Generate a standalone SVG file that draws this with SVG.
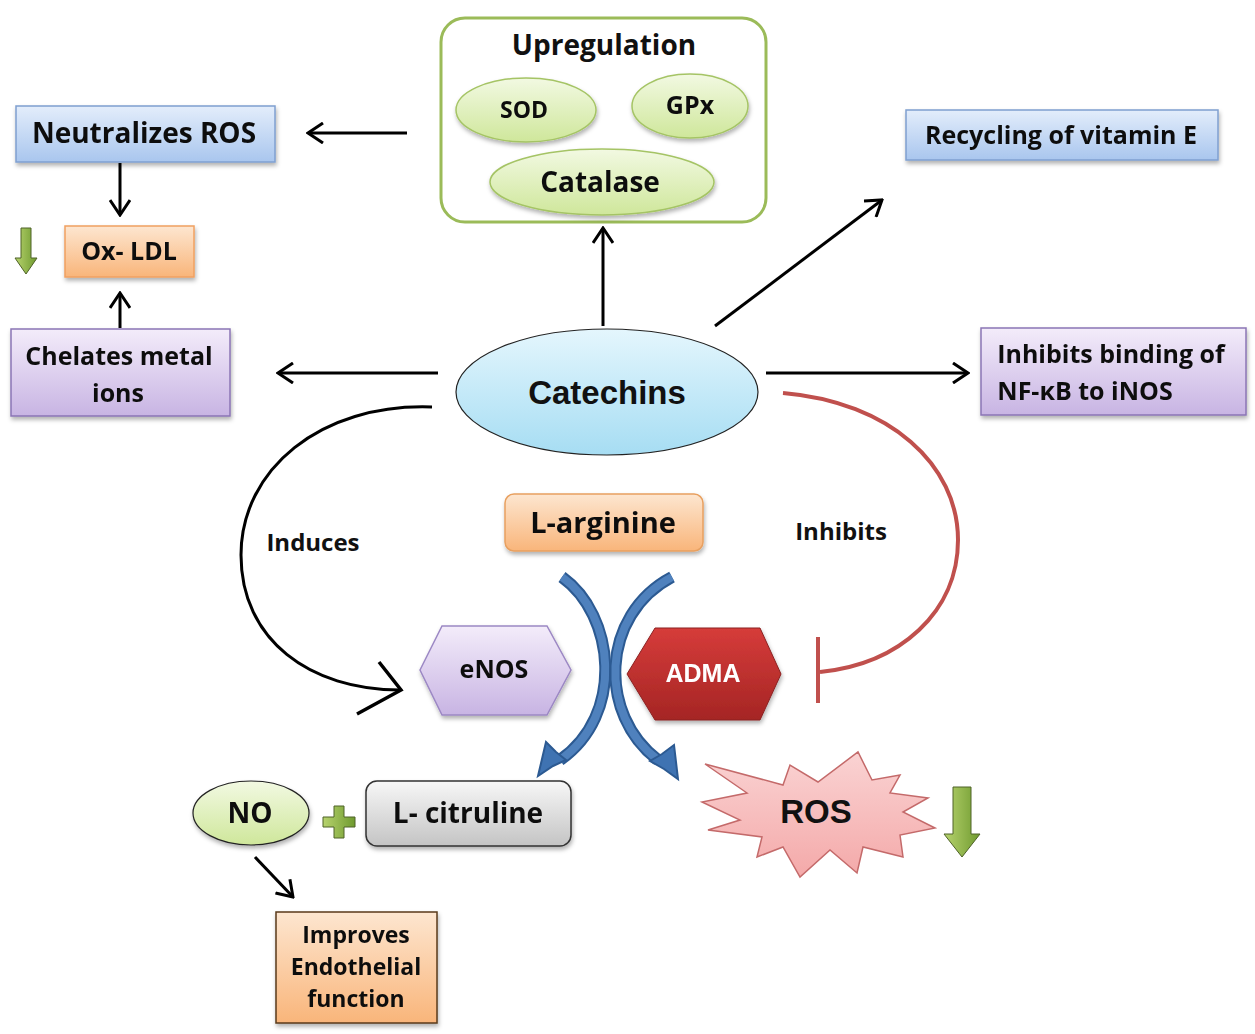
<svg xmlns="http://www.w3.org/2000/svg" width="1255" height="1034" viewBox="0 0 1255 1034">
<defs>
<linearGradient id="gBlue" x1="0" y1="0" x2="0" y2="1"><stop offset="0" stop-color="#e3edfb"/><stop offset="1" stop-color="#a9c6ee"/></linearGradient>
<linearGradient id="gOrange" x1="0" y1="0" x2="0" y2="1"><stop offset="0" stop-color="#fde6d0"/><stop offset="1" stop-color="#f9b57a"/></linearGradient>
<linearGradient id="gPurple" x1="0" y1="0" x2="0" y2="1"><stop offset="0" stop-color="#f3ecfa"/><stop offset="1" stop-color="#c8b4e3"/></linearGradient>
<linearGradient id="gGreen" x1="0" y1="0" x2="0" y2="1"><stop offset="0" stop-color="#f2f9e2"/><stop offset="1" stop-color="#cfe79b"/></linearGradient>
<linearGradient id="gCyan" x1="0" y1="0" x2="0" y2="1"><stop offset="0" stop-color="#e4f6fd"/><stop offset="1" stop-color="#a6ddf3"/></linearGradient>
<linearGradient id="gGray" x1="0" y1="0" x2="0" y2="1"><stop offset="0" stop-color="#f7f7f7"/><stop offset="1" stop-color="#c4c4c4"/></linearGradient>
<linearGradient id="gRed" x1="0" y1="0" x2="0" y2="1"><stop offset="0" stop-color="#d63c3a"/><stop offset="1" stop-color="#a52524"/></linearGradient>
<linearGradient id="gPink" x1="0" y1="0" x2="0" y2="1"><stop offset="0" stop-color="#fad3d3"/><stop offset="1" stop-color="#f4a9a9"/></linearGradient>
<linearGradient id="gDown" x1="0" y1="0" x2="1" y2="0"><stop offset="0" stop-color="#b7d36e"/><stop offset="1" stop-color="#6f9a2f"/></linearGradient>
<filter id="sh" x="-10%" y="-10%" width="130%" height="140%"><feDropShadow dx="1" dy="3" stdDeviation="2" flood-color="#000" flood-opacity="0.3"/></filter>
<marker id="arr" markerUnits="userSpaceOnUse" viewBox="0 0 18 22" refX="16" refY="11" markerWidth="18" markerHeight="22" orient="auto">
<path d="M1,1 L16,11 L1,21" fill="none" stroke="#000" stroke-width="3"/>
</marker>
</defs>
<style>
.t{font-family:"Open Sans",Lato,"Liberation Sans",sans-serif;font-weight:bold;fill:#111;text-anchor:middle;dominant-baseline:central}
.a{font-family:"Liberation Sans",Arial,sans-serif;font-weight:bold;fill:#111;text-anchor:middle;dominant-baseline:central}
.ln{fill:none;stroke:#000;stroke-width:3;marker-end:url(#arr)}
.box{filter:url(#sh)}
.blueArr{fill:none;stroke:#2c5a92;stroke-width:12;stroke-linecap:butt}
.blueIn{fill:none;stroke:#4f81bd;stroke-width:8}
.down{fill:url(#gDown);stroke:#4f6228;stroke-width:1}
</style>
<rect width="1255" height="1034" fill="#fff"/>

<g id="connectors">
<line class="ln" x1="407" y1="133" x2="308" y2="133"/>
<line class="ln" x1="120" y1="163" x2="120" y2="215"/>
<line class="ln" x1="120" y1="328" x2="120" y2="293"/>
<line class="ln" x1="438" y1="373" x2="278" y2="373"/>
<line class="ln" x1="603" y1="326" x2="603" y2="228"/>
<line class="ln" x1="715" y1="326" x2="882" y2="200"/>
<line class="ln" x1="766" y1="373" x2="968" y2="373"/>
<line class="ln" x1="255" y1="857" x2="293" y2="897"/>
<path d="M432,407 C320,403 241,470 241,555 C241,640 310,690 400,690" fill="none" stroke="#000" stroke-width="3"/>
<polyline points="379,662 401,690 357,714" fill="none" stroke="#000" stroke-width="3.5"/>
<path d="M783,393 C890,402 958,465 958,540 C958,612 900,664 820,672" fill="none" stroke="#c0504d" stroke-width="4"/>
<line x1="818" y1="637" x2="818" y2="703" stroke="#c0504d" stroke-width="4"/>
<path class="blueArr" d="M562,577 C615,615 625,715 560,760"/>
<path class="blueIn" d="M562,577 C615,615 625,715 560,760"/>
<polygon points="538,776 546,742 556,752 566,760 553,766" fill="#3f73b2" stroke="#2c5a92" stroke-width="2"/>
<path class="blueArr" d="M672,577 C600,615 598,715 658,760"/>
<path class="blueIn" d="M672,577 C600,615 598,715 658,760"/>
<polygon points="678,779 674,745 662,754 650,761 664,769" fill="#3f73b2" stroke="#2c5a92" stroke-width="2"/>
</g>

<g id="upregulation">
<rect x="441" y="18" width="325" height="204" rx="24" fill="#fff" stroke="#9bbb59" stroke-width="3"/>
<text class="t" x="604" y="44" font-size="28">Upregulation</text>
</g>
<g id="sod" class="box"><ellipse cx="526" cy="110" rx="70" ry="32" fill="url(#gGreen)" stroke="#a5c465" stroke-width="1.5"/><text class="t" x="524" y="109" font-size="23">SOD</text></g>
<g id="gpx" class="box"><ellipse cx="690" cy="106" rx="58" ry="32" fill="url(#gGreen)" stroke="#a5c465" stroke-width="1.5"/><text class="t" x="690" y="104" font-size="25">GPx</text></g>
<g id="catalase" class="box"><ellipse cx="602" cy="182" rx="112" ry="33" fill="url(#gGreen)" stroke="#a5c465" stroke-width="1.5"/><text class="t" x="600" y="181" font-size="28">Catalase</text></g>

<g id="neutralizes" class="box"><rect x="16" y="106" width="259" height="56" fill="url(#gBlue)" stroke="#7f9fd0" stroke-width="1.5"/><text class="t" x="144" y="132" font-size="28">Neutralizes ROS</text></g>
<g id="oxldl" class="box"><rect x="65" y="226" width="129" height="51" fill="url(#gOrange)" stroke="#f0a060" stroke-width="1.5"/><text class="t" x="129" y="250" font-size="25">Ox- LDL</text></g>
<g id="downLDL"><polygon class="down" points="21,228 31,228 31,258 37,258 26,274 15,258 21,258"/></g>
<g id="chelates" class="box"><rect x="11" y="329" width="219" height="87" fill="url(#gPurple)" stroke="#8b75b5" stroke-width="1.5"/><text class="t" x="119" y="355" font-size="25">Chelates metal</text><text class="t" x="118" y="392" font-size="25">ions</text></g>

<g id="recycling" class="box"><rect x="906" y="110" width="312" height="50" fill="url(#gBlue)" stroke="#7f9fd0" stroke-width="1.5"/><text class="t" x="1061" y="134" font-size="25">Recycling of vitamin  E</text></g>
<g id="inhibitsBinding" class="box"><rect x="981" y="328" width="265" height="87" fill="url(#gPurple)" stroke="#8b75b5" stroke-width="1.5"/><text class="t" x="1111" y="353" font-size="25">Inhibits  binding  of</text><text class="t" x="1085" y="390" font-size="25">NF-κB to iNOS</text></g>

<g id="catechins"><ellipse cx="607" cy="392" rx="151" ry="63" fill="url(#gCyan)" stroke="#222" stroke-width="1.2"/><text class="a" x="607" y="392" font-size="33">Catechins</text></g>

<g id="induces"><text class="t" x="313" y="541" font-size="24">Induces</text></g>
<g id="inhibits"><text class="t" x="841" y="530" font-size="24">Inhibits</text></g>

<g id="larginine" class="box"><rect x="505" y="494" width="198" height="57" rx="9" fill="url(#gOrange)" stroke="#e8a060" stroke-width="1.5"/><text class="t" x="603" y="521" font-size="29">L-arginine</text></g>

<g id="enos" class="box"><polygon points="420,670 442,626 547,626 571,670 547,715 442,715" fill="url(#gPurple)" stroke="#9c88c4" stroke-width="1.5"/><text class="t" x="494" y="668" font-size="25">eNOS</text></g>
<g id="adma" class="box"><polygon points="627,674 655,628 760,628 781,674 760,720 655,720" fill="url(#gRed)" stroke="#8b2020" stroke-width="1"/><text class="a" x="703" y="673" font-size="25" style="fill:#fff">ADMA</text></g>

<g id="no" class="box"><ellipse cx="251" cy="813" rx="58" ry="32" fill="url(#gGreen)" stroke="#222" stroke-width="1.2"/><text class="t" x="250" y="812" font-size="28">NO</text></g>
<g id="plus"><polygon points="334,806 344,806 344,817 355,817 355,827 344,827 344,838 334,838 334,827 323,827 323,817 334,817" fill="url(#gDown)" stroke="#4f6228" stroke-width="1"/></g>
<g id="lcitruline" class="box"><rect x="366" y="781" width="205" height="65" rx="11" fill="url(#gGray)" stroke="#333" stroke-width="1.5"/><text class="t" x="468" y="812" font-size="28">L- citruline</text></g>

<g id="improves" class="box"><rect x="276" y="912" width="161" height="111" fill="url(#gOrange)" stroke="#5a3a1a" stroke-width="1.5"/><text class="t" x="356" y="934" font-size="23">Improves</text><text class="t" x="356" y="966" font-size="23">Endothelial</text><text class="t" x="356" y="998" font-size="23">function</text></g>

<g id="ros"><polygon points="705,764 783,785 790,765 818,782 858,752 872,780 900,775 890,793 928,798 903,812 935,828 900,835 903,857 863,847 857,873 830,850 800,877 783,847 757,857 762,837 708,830 740,820 702,802 747,793" fill="url(#gPink)" stroke="#c46a6a" stroke-width="1.5"/><text class="a" x="816" y="811" font-size="33">ROS</text></g>
<g id="downROS"><polygon class="down" points="953,787 971,787 971,834 980,834 962,857 944,834 953,834"/></g>
</svg>
